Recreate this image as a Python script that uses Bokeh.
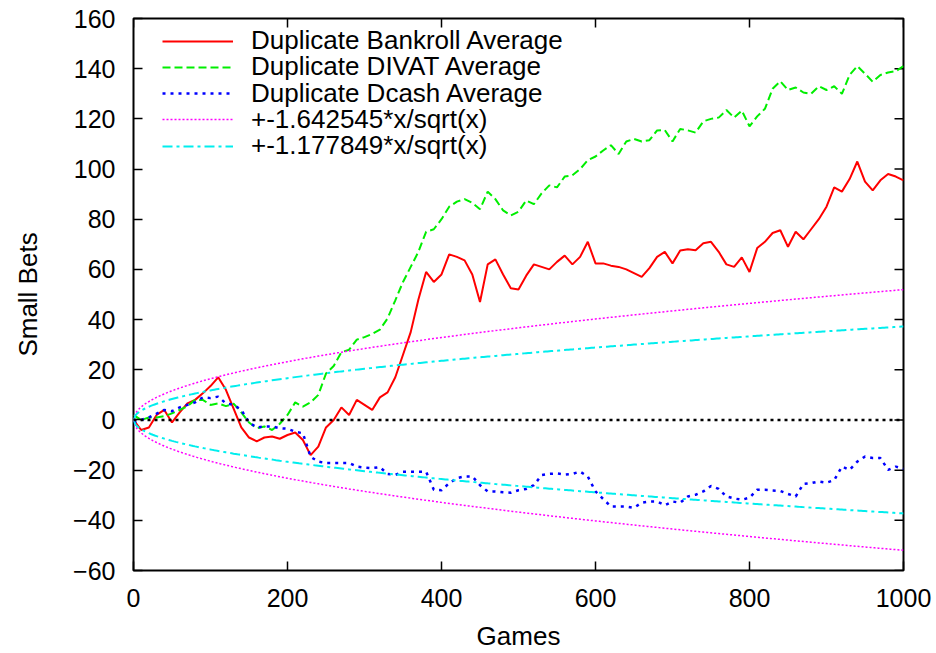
import numpy as np
from bokeh.plotting import figure
from bokeh.models import Range1d, FixedTicker, Span, Legend, LegendItem
from bokeh.embed import file_html
from bokeh.resources import INLINE

# Running averages over the match, sampled every 10 games
games = list(range(0, 1001, 10))

bankroll_avg = [
    0, -4, -3, 2, 4, -1, 3, 6.6, 8, 10.6,
    13.5, 17, 12, 4.5, -3, -7, -8.5, -7, -6.6, -7.5,
    -6, -5, -8, -14, -10.6, -3, 0, 5, 2, 8,
    6, 4, 9, 11, 17, 26, 35, 48, 59, 55,
    58, 66, 65, 63.6, 58, 47, 62, 64, 58, 52.5,
    52, 57.5, 62, 61, 60, 63, 65.5, 62, 65, 71,
    62.4, 62.4, 61.5, 61, 60, 58.5, 57, 60.5, 65, 67,
    62.4, 67.5, 68, 67.6, 70.4, 71, 67, 62, 61, 64.8,
    59, 68.5, 71, 74.5, 75.6, 69, 75, 72, 76, 80,
    85, 92.7, 91, 96, 103, 95, 91.5, 95.5, 98, 97,
    95.5,
]

divat_avg = [
    2, 0, 1, 1, 1.5, 2.6, 4, 5.5, 8, 8,
    6, 6.6, 5.5, 6.5, 3, -1, -3.3, -2.6, -4, -1.5,
    2, 7, 5.3, 7, 10, 18.5, 21.5, 27, 28, 32,
    33, 34.3, 36, 40.5, 47.7, 55, 61, 67, 75, 76,
    80, 85, 87, 88, 86.5, 84, 91, 88, 83.5, 81.5,
    83, 87.5, 86, 90.3, 93.5, 92.7, 97, 97.5, 100, 103.5,
    105, 107.4, 109.5, 106, 111, 112, 111, 111.5, 115.4, 115.5,
    111, 116, 115.4, 114.5, 119, 120, 120.5, 123.5, 120.5, 123.3,
    117, 121, 124, 132, 135, 131.5, 132.5, 130.5, 130, 133,
    131.5, 133, 130, 137.5, 141, 138, 134.8, 137.5, 138.5, 139,
    141,
]

dcash_avg = [
    -1, 0, 1, 2.5, 4, 3.5, 5, 6, 7, 9,
    8.7, 9.3, 6.6, 6, 4, -1, -3, -2.6, -2.6, -3.3,
    -3.5, -4.7, -5.3, -14.7, -16.6, -17.2, -17.2, -17.2, -17.2, -18.6,
    -19, -19.2, -18.8, -21.5, -21.9, -20.6, -20.6, -20.6, -20.6, -27.8,
    -28, -25.2, -23.2, -22.5, -22.5, -26, -28.5, -28.5, -28.8, -29,
    -28, -27.5, -26, -22, -21.5, -21.3, -21.8, -21.5, -20.6, -22.5,
    -28.5, -31.5, -34.5, -34.5, -34.5, -35, -33, -32.5, -32.5, -34,
    -32.5, -33, -30.5, -29.8, -28.5, -26.3, -27.5, -30.5, -31.3, -31.8,
    -31, -27.8, -27.8, -28.1, -28.3, -29.5, -30.5, -25.5, -25.2, -24.5,
    -25, -24, -18.6, -19.9, -16.6, -14.6, -15.2, -15.2, -19.9, -18.6,
    -19.5,
]

# Confidence envelopes: +-k*x/sqrt(x)
k_wide = 1.642545
k_narrow = 1.177849
xs = np.linspace(0, 1000, 401)
root = np.sqrt(xs)

x_min, x_max = 0, 1000
y_min, y_max = -60, 160
x_ticks = [0, 200, 400, 600, 800, 1000]
y_ticks = list(range(-60, 161, 20))

FONT = "Liberation Sans"
TICK_LEN = 9

p = figure(
    width=936, height=653, output_backend="svg", toolbar_location=None,
    x_range=Range1d(x_min, x_max), y_range=Range1d(y_min, y_max),
    min_border_left=133, min_border_right=33, min_border_top=18, min_border_bottom=82,
    x_axis_label="Games", y_axis_label="Small Bets",
)
p.xgrid.visible = False
p.ygrid.visible = False
p.outline_line_color = "black"
p.outline_line_width = 2
p.background_fill_color = "white"
p.border_fill_color = "white"

for ax, ticks in ((p.xaxis[0], x_ticks), (p.yaxis[0], y_ticks)):
    ax.ticker = FixedTicker(ticks=ticks)
    ax.minor_tick_line_color = None
    ax.major_tick_in = TICK_LEN
    ax.major_tick_out = 0
    ax.major_tick_line_width = 1.5
    ax.axis_line_color = None
    ax.major_label_text_font = FONT
    ax.major_label_text_font_size = "25px"
    ax.major_label_text_color = "black"
    ax.axis_label_text_font = FONT
    ax.axis_label_text_font_size = "26px"
    ax.axis_label_text_font_style = "normal"
    ax.axis_label_text_color = "black"

p.yaxis[0].major_label_standoff = 18
p.yaxis[0].axis_label_standoff = 27
p.xaxis[0].major_label_standoff = 18
p.xaxis[0].axis_label_standoff = 11

# mirrored tick marks on the top and right edges of the frame
p.ray(x=x_ticks, y=[y_max] * len(x_ticks), length=TICK_LEN, length_units="screen",
      angle=-np.pi / 2, line_color="black", line_width=1.5)
p.ray(x=[x_max] * len(y_ticks), y=y_ticks, length=TICK_LEN, length_units="screen",
      angle=np.pi, line_color="black", line_width=1.5)

p.add_layout(Span(location=0, dimension="width", line_color="black",
                  line_width=2.5, line_dash="3 4"))

r_bank = p.line(games, bankroll_avg, line_color="#ff0000", line_width=2)
r_divat = p.line(games, divat_avg, line_color="#00ee00", line_width=2, line_dash="8 4")
r_dcash = p.line(games, dcash_avg, line_color="#0000ff", line_width=2.5, line_dash="3 5")
r_w_hi = p.line(xs, k_wide * root, line_color="#ff00ff", line_width=1.5, line_dash="2 2")
p.line(xs, -k_wide * root, line_color="#ff00ff", line_width=1.5, line_dash="2 2")
r_n_hi = p.line(xs, k_narrow * root, line_color="#00eeee", line_width=2, line_dash="10 4 3 4")
p.line(xs, -k_narrow * root, line_color="#00eeee", line_width=2, line_dash="10 4 3 4")

# one single-entry legend per key row, stacked with a tight pitch
entries = [
    ("Duplicate Bankroll Average", r_bank),
    ("Duplicate DIVAT Average", r_divat),
    ("Duplicate Dcash Average", r_dcash),
    ("+-1.642545*x/sqrt(x)", r_w_hi),
    ("+-1.177849*x/sqrt(x)", r_n_hi),
]
ROW_TOP = 514
ROW_PITCH = 26.3
for i, (label, rend) in enumerate(entries):
    p.add_layout(Legend(
        items=[LegendItem(label=label, renderers=[rend])],
        location=(29, ROW_TOP - i * ROW_PITCH),
        border_line_color=None,
        background_fill_alpha=0,
        padding=0,
        margin=0,
        glyph_width=71,
        glyph_height=26,
        label_height=26,
        label_standoff=18,
        label_text_font=FONT,
        label_text_font_size="26px",
        label_text_color="black",
    ))

open("out.html", "w").write(file_html(p, INLINE))
